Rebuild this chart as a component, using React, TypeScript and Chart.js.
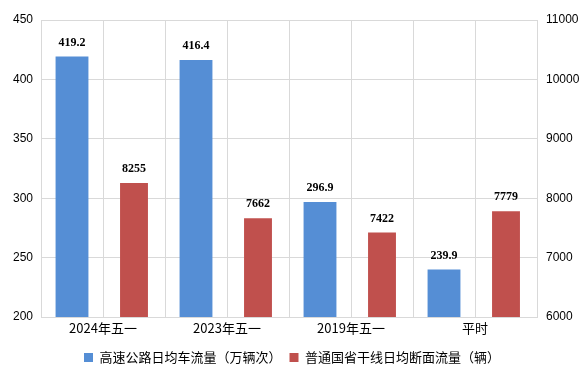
import React, { useEffect, useRef } from "react";
import { Chart, registerables } from "chart.js";

Chart.register(...registerables);

const categories = ["2024年五一", "2023年五一", "2019年五一", "平时"];
const highwayValues = [419.2, 416.4, 296.9, 239.9];
const trunkValues = [8255, 7662, 7422, 7779];
const seriesNames = ["高速公路日均车流量（万辆次）", "普通国省干线日均断面流量（辆）"];

const SANS = "'Liberation Sans', 'Noto Sans CJK SC', sans-serif";
const CJK = "'Noto Sans CJK SC', 'Liberation Sans', sans-serif";
const SERIF = "'Liberation Serif', 'Times New Roman', serif";

const dataLabelPlugin = {
  id: "dataLabels",
  afterDatasetsDraw(chart: any) {
    const ctx = chart.ctx;
    ctx.save();
    ctx.font = `bold 12px ${SERIF}`;
    ctx.fillStyle = "#000000";
    ctx.textAlign = "center";
    ctx.textBaseline = "middle";
    chart.data.datasets.forEach((ds: any, di: number) => {
      const meta = chart.getDatasetMeta(di);
      meta.data.forEach((el: any, i: number) => {
        const v = ds.data[i];
        ctx.fillText(String(v), el.x, el.y - 14);
      });
    });
    ctx.restore();
  },
};

export default function App() {
  const canvasRef = useRef<HTMLCanvasElement | null>(null);

  useEffect(() => {
    if (!canvasRef.current) return;
    const chart = new Chart(canvasRef.current, {
      type: "bar",
      data: {
        labels: categories,
        datasets: [
          {
            label: seriesNames[0],
            data: highwayValues,
            backgroundColor: "#558ED5",
            yAxisID: "y",
            xAxisID: "x",
            categoryPercentage: 1,
            barPercentage: 0.53,
          },
          {
            label: seriesNames[1],
            data: trunkValues,
            backgroundColor: "#C0504D",
            yAxisID: "y1",
            xAxisID: "x",
            categoryPercentage: 1,
            barPercentage: 0.45,
          },
        ],
      },
      options: {
        responsive: false,
        animation: false,
        layout: { padding: { top: 20, left: 0, right: 0, bottom: 10 } },
        plugins: {
          tooltip: { enabled: false },
          legend: {
            position: "bottom",
            labels: {
              font: { family: CJK, size: 13 },
              color: "#000000",
              boxWidth: 9,
              boxHeight: 9,
              padding: 8,
            },
          },
        },
        scales: {
          x: {
            type: "category",
            offset: true,
            grid: { display: true, offset: true, color: "#D9D9D9", drawTicks: false },
            border: { display: true, color: "#D9D9D9" },
            ticks: { font: { family: CJK, size: 13, lineHeight: 1 }, color: "#000000", padding: 5, autoSkip: false },
            afterFit: (s: any) => {
              s.height = 26;
            },
          },
          x2: {
            type: "category",
            labels: categories,
            position: "bottom",
            offset: true,
            ticks: { display: false, autoSkip: false },
            grid: { display: true, offset: false, color: "#D9D9D9", drawTicks: false },
            border: { display: false },
            afterFit: (s: any) => {
              s.height = 0;
            },
          },
          y: {
            type: "linear",
            position: "left",
            min: 200,
            max: 450,
            ticks: { stepSize: 50, font: { family: SANS, size: 12 }, color: "#000000", padding: 8 },
            grid: { color: "#D9D9D9", drawTicks: false },
            border: { display: true, color: "#D9D9D9" },
            afterFit: (s: any) => {
              s.width = 41;
            },
          },
          y1: {
            type: "linear",
            position: "right",
            min: 6000,
            max: 11000,
            ticks: {
              stepSize: 1000,
              font: { family: SANS, size: 12 },
              color: "#000000",
              padding: 9,
              callback: (v: any) => String(v),
            },
            grid: { display: false, drawTicks: false },
            border: { display: false },
            afterFit: (s: any) => {
              s.width = 47;
            },
          },
        },
      },
      plugins: [dataLabelPlugin],
    });
    return () => chart.destroy();
  }, []);

  return (
    <div style={{ position: "fixed", left: 0, top: 0, width: 584, height: 384, background: "#ffffff" }}>
      <canvas ref={canvasRef} width={584} height={384} />
    </div>
  );
}
